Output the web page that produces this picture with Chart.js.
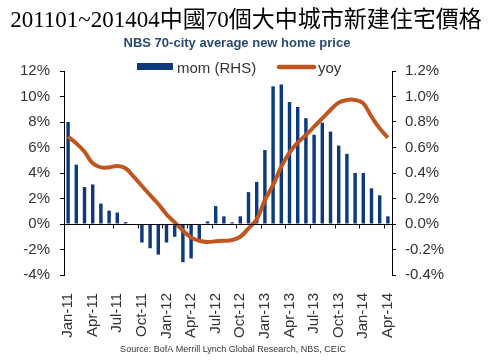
<!DOCTYPE html>
<html>
<head>
<meta charset="utf-8">
<script src="https://cdn.jsdelivr.net/npm/chart.js@4"></script>
<style>
  html, body { margin: 0; padding: 0; background: #fff; }
  #wrap { width: 493px; height: 360px; position: relative; }
</style>
</head>
<body>
<div id="wrap"><canvas id="myChart" width="493" height="360"></canvas></div>
<script>
// months Jan-11 .. Apr-14
const months = [
  'Jan-11','Feb-11','Mar-11','Apr-11','May-11','Jun-11','Jul-11','Aug-11','Sep-11','Oct-11','Nov-11','Dec-11',
  'Jan-12','Feb-12','Mar-12','Apr-12','May-12','Jun-12','Jul-12','Aug-12','Sep-12','Oct-12','Nov-12','Dec-12',
  'Jan-13','Feb-13','Mar-13','Apr-13','May-13','Jun-13','Jul-13','Aug-13','Sep-13','Oct-13','Nov-13','Dec-13',
  'Jan-14','Feb-14','Mar-14','Apr-14'
];

// month-on-month, % (right axis)
const momValues = [
  0.80, 0.465, 0.29, 0.31, 0.16, 0.105, 0.09, 0.015, 0.0, -0.145, -0.19, -0.24,
  -0.145, -0.10, -0.30, -0.27, -0.12, 0.02, 0.14, 0.06, 0.013, 0.06, 0.25, 0.33,
  0.58, 1.08, 1.095, 0.957, 0.918, 0.83, 0.70, 0.795, 0.725, 0.615, 0.55, 0.40,
  0.40, 0.28, 0.225, 0.06
];

// year-on-year, % (left axis)
const yoyValues = [
  6.85, 6.33, 5.67, 4.76, 4.44, 4.44, 4.55, 4.37, 3.71, 2.98, 2.27, 1.57,
  0.76, 0.13, -0.52, -1.05, -1.31, -1.41, -1.35, -1.32, -1.25, -1.0, -0.34, 0.37,
  1.88, 3.06, 4.5, 5.6, 6.38, 6.98, 7.63, 8.29, 8.94, 9.52, 9.73, 9.73,
  9.46, 8.42, 7.5, 6.77
];

const titleText = '201101~201404中國70個大中城市新建住宅價格';
const subtitleText = 'NBS 70-city average new home price';
const sourceText = 'Source: BofA Merrill Lynch Global Research, NBS, CEIC';

const barColor = '#0c3a7c';
const lineColor = '#c0561f';
const textColor = '#333333';
const sans = '"Liberation Sans", Arial, sans-serif';

// zero line with ticks every 3 months, titles, legend and source
const decorations = {
  id: 'decorations',
  afterDatasetsDraw(chart) {
    const { ctx, chartArea: { left, right }, scales: { x, y } } = chart;
    const y0 = Math.round(y.getPixelForValue(0)) + 0.5;
    const half = (x.getPixelForValue(1) - x.getPixelForValue(0)) / 2;
    ctx.save();
    ctx.strokeStyle = '#000';
    ctx.lineWidth = 1;
    ctx.beginPath();
    ctx.moveTo(left, y0);
    ctx.lineTo(right, y0);
    for (let i = 0; i <= months.length; i += 3) {
      const px = Math.round(x.getPixelForValue(i) - half) + 0.5;
      ctx.moveTo(px, y0);
      ctx.lineTo(px, y0 + 4);
    }
    ctx.stroke();
    ctx.restore();
  },
  afterDraw(chart) {
    const { ctx } = chart;
    ctx.save();
    ctx.textBaseline = 'alphabetic';

    // main title
    ctx.textAlign = 'center';
    ctx.fillStyle = '#000';
    ctx.font = '23px "Liberation Serif", "Noto Sans CJK TC", serif';
    ctx.fillText(titleText, 246, 27);

    // subtitle
    ctx.fillStyle = '#2b4a73';
    ctx.font = 'bold 13px ' + sans;
    ctx.fillText(subtitleText, 237, 47);

    // legend
    ctx.textAlign = 'left';
    ctx.font = '15px ' + sans;
    ctx.fillStyle = barColor;
    ctx.fillRect(137, 63, 36, 7);
    ctx.fillStyle = textColor;
    ctx.fillText(chart.data.datasets[0].label, 177, 73);
    ctx.strokeStyle = lineColor;
    ctx.lineWidth = 4.5;
    ctx.lineCap = 'round';
    ctx.beginPath();
    ctx.moveTo(279, 67);
    ctx.lineTo(314, 67);
    ctx.stroke();
    ctx.fillText(chart.data.datasets[1].label, 318, 73);

    // source
    ctx.textAlign = 'center';
    ctx.font = '9px ' + sans;
    ctx.fillStyle = textColor;
    ctx.fillText(sourceText, 233, 352);
    ctx.restore();
  }
};

const data = {
  labels: months,
  datasets: [{
    type: 'bar',
    label: 'mom (RHS)',
    data: momValues,
    yAxisID: 'y1',
    backgroundColor: barColor,
    borderWidth: 0,
    barPercentage: 0.42,
    categoryPercentage: 1.0,
    order: 2
  }, {
    type: 'line',
    label: 'yoy',
    data: yoyValues,
    yAxisID: 'y',
    borderColor: lineColor,
    backgroundColor: lineColor,
    borderWidth: 4,
    pointRadius: 0,
    tension: 0.4,
    order: 1
  }]
};

const config = {
  data: data,
  options: {
    responsive: false,
    animation: false,
    layout: { padding: { left: 0, right: 0, top: 71, bottom: 0 } },
    plugins: {
      title: { display: false },
      legend: { display: false },
      tooltip: { enabled: false }
    },
    scales: {
      x: {
        grid: { display: false },
        border: { display: false },
        afterFit(s) { s.height = 85; },
        ticks: {
          color: textColor,
          font: { family: sans, size: 15 },
          autoSkip: false,
          maxRotation: 90,
          minRotation: 90,
          padding: 10,
          callback(value, index) { return index % 3 === 0 ? months[index] : ''; }
        }
      },
      y: {
        position: 'left',
        min: -4,
        max: 12,
        afterFit(s) { s.width = 64; },
        ticks: {
          stepSize: 2,
          color: textColor,
          font: { family: sans, size: 15 },
          padding: 10,
          callback(v) { return v + '%'; }
        },
        grid: { drawOnChartArea: false, color: '#000', tickLength: 4 },
        border: { display: true, color: '#000' }
      },
      y1: {
        position: 'right',
        min: -0.4,
        max: 1.2,
        afterFit(s) { s.width = 101; },
        ticks: {
          stepSize: 0.2,
          color: textColor,
          font: { family: sans, size: 15 },
          padding: 9,
          callback(v) { return v.toFixed(1) + '%'; }
        },
        grid: { drawOnChartArea: false, color: '#000', tickLength: 4 },
        border: { display: true, color: '#000' }
      }
    }
  },
  plugins: [decorations]
};

const myChart = new Chart(document.getElementById('myChart'), config);
</script>
</body>
</html>
